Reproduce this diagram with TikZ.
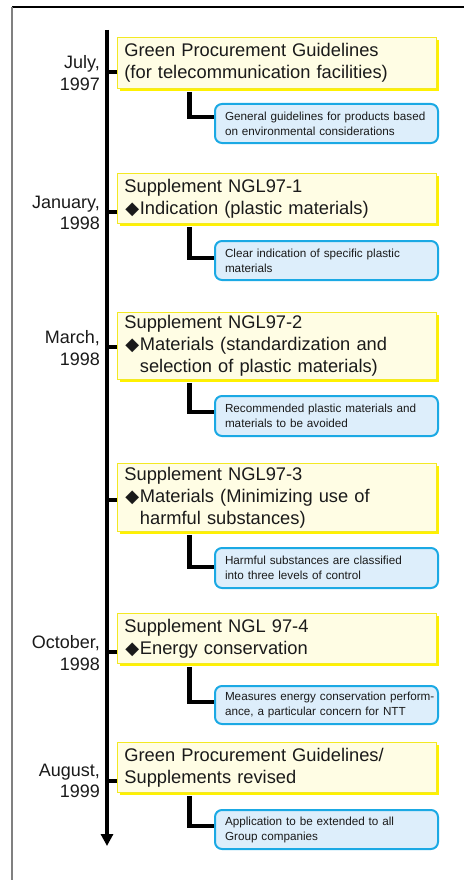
\documentclass[tikz,border=0pt]{standalone}
\usepackage{fontspec}
\setmainfont{Liberation Sans}
\newfontfamily\dingfont{DejaVu Sans}
\usetikzlibrary{arrows.meta,shadows}

\definecolor{boxfill}{HTML}{FFFDE4}
\definecolor{boxline}{HTML}{F3E923}
\definecolor{boxshadow}{HTML}{FFF100}
\definecolor{notefill}{HTML}{DDEEFB}
\definecolor{noteline}{HTML}{1BA9E4}
\definecolor{ink}{HTML}{1A1A1A}

% black diamond bullet with a hanging width
\newcommand{\itemmark}{\makebox[15.5pt][l]{\hspace*{1pt}{\dingfont\fontsize{18}{18}\selectfont\char"25C6}}}

\begin{document}
\begin{tikzpicture}[x=1pt,y=-1pt,
  milestone/.style={draw=boxline, line width=0.8pt, fill=boxfill,
    anchor=north west, text width=305pt, inner xsep=7pt, inner ysep=0pt,
    align=left, font=\fontsize{18.3}{22}\selectfont, text=ink,
    drop shadow={shadow xshift=3pt, shadow yshift=-3pt, fill=boxshadow, opacity=1}},
  note/.style={draw=noteline, line width=2pt, fill=notefill, rounded corners=7pt,
    anchor=north west, text width=203pt, inner xsep=10pt, inner ysep=0pt,
    align=left, font=\fontsize{11.7}{15}\selectfont, text=ink},
  datelbl/.style={anchor=east, align=right, inner sep=0pt,
    font=\fontsize{18}{21.5}\selectfont, text=ink},
  timeline/.style={line width=4pt, -{Triangle[width=12pt,length=12pt]}},
  link/.style={line width=4.5pt}]

\useasboundingbox (0,0) rectangle (464,880);

% page frame
\coordinate (fc) at (12,7);
\coordinate (fr) at (464,7);
\coordinate (fb) at (12,880);
\draw[black, line width=1.2pt] (fc) -- (fr);
\draw[gray, line width=1.4pt] (fc) -- (fb);

% time axis
\coordinate (ttop) at (107,30);
\coordinate (tend) at (107,846);
\draw[timeline] (ttop) -- (tend);

% milestones
\node[milestone, minimum height=51pt] (m1) at (117,37)
  {Green Procurement Guidelines\\(for telecommunication facilities)};
\node[milestone, minimum height=50pt] (m2) at (117,173)
  {Supplement NGL97-1\\\itemmark Indication (plastic materials)};
\node[milestone, minimum height=67pt] (m3) at (117,312)
  {Supplement NGL97-2\\\itemmark Materials (standardization and\\\hspace*{15.5pt}selection of plastic materials)};
\node[milestone, minimum height=68pt] (m4) at (117,463)
  {Supplement NGL97-3\\\itemmark Materials (Minimizing use of\\\hspace*{15.5pt}harmful substances)};
\node[milestone, minimum height=50pt] (m5) at (117,613)
  {Supplement NGL 97-4\\\itemmark Energy conservation};
\node[milestone, minimum height=50pt] (m6) at (117,742)
  {Green Procurement Guidelines/\\Supplements revised};

% notes
\node[note, minimum height=39pt] (n1) at (214,103)
  {\mbox{General guidelines for products based}\\on environmental considerations};
\node[note, minimum height=39pt] (n2) at (214,240)
  {Clear indication of specific plastic\\materials};
\node[note, minimum height=40pt] (n3) at (214,395)
  {Recommended plastic materials and\\materials to be avoided};
\node[note, minimum height=40pt] (n4) at (214,547)
  {Harmful substances are classified\\into three levels of control};
\node[note, minimum height=38pt] (n5) at (214,685)
  {\mbox{Measures energy conservation perform-}\\\mbox{ance, a particular concern for NTT}};
\node[note, minimum height=39pt] (n6) at (214,809)
  {Application to be extended to all\\Group companies};

% dates
\node[datelbl] (d1) at (100,73) {July,\\1997};
\node[datelbl] (d2) at (100,213) {January,\\1998};
\node[datelbl] (d3) at (100,348) {March,\\1998};
\node[datelbl] (d5) at (100,653) {October,\\1998};
\node[datelbl] (d6) at (100,781) {August,\\1999};

% ticks from the axis to each milestone
\foreach \i/\ty in {1/72, 2/212, 3/347, 4/500, 5/652, 6/781}{
  \coordinate (k\i) at (107,\ty);
  \draw[link] (k\i) -- (k\i -| m\i.west);
}

% links from milestones to notes
\foreach \i/\cy in {1/117, 2/258, 3/412, 4/567, 5/702, 6/826}{
  \coordinate (c\i) at (189.5,\cy);
  \draw[link] ([yshift=-3pt]m\i.south -| c\i) |- (c\i -| n\i.west);
}
\end{tikzpicture}
\end{document}
